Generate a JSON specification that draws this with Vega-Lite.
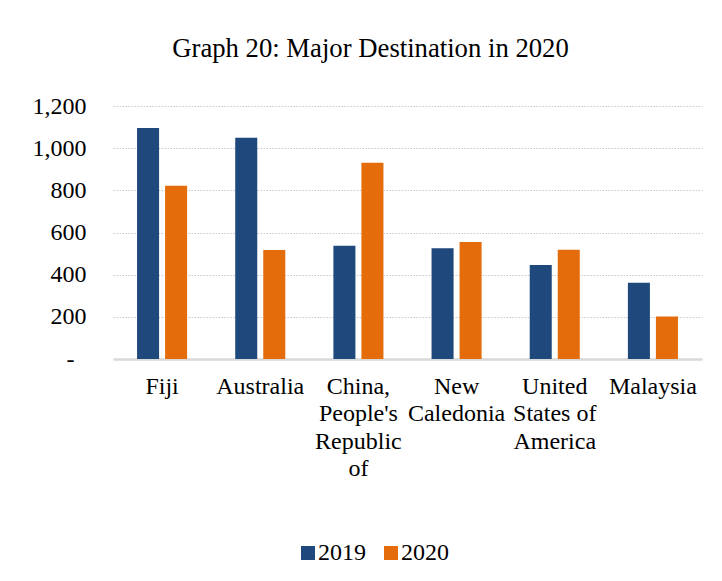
{
  "$schema": "https://vega.github.io/schema/vega-lite/v6.json",
  "autosize": "none",
  "width": 589,
  "height": 253,
  "padding": {"left": 113, "top": 106, "right": 20, "bottom": 222},
  "background": "white",
  "title": {
    "text": "Graph 20: Major Destination in 2020",
    "font": "Liberation Serif",
    "fontSize": 26.7,
    "fontWeight": "normal",
    "color": "#000000",
    "anchor": "middle",
    "dx": -37,
    "offset": 31
  },
  "data": {
    "values": [
      {"country": "Fiji", "year": "2019", "value": 1096},
      {"country": "Fiji", "year": "2020", "value": 822},
      {"country": "Australia", "year": "2019", "value": 1050},
      {"country": "Australia", "year": "2020", "value": 517},
      {"country": "China, People's Republic of", "year": "2019", "value": 537},
      {"country": "China, People's Republic of", "year": "2020", "value": 931},
      {"country": "New Caledonia", "year": "2019", "value": 525},
      {"country": "New Caledonia", "year": "2020", "value": 555},
      {"country": "United States of America", "year": "2019", "value": 446},
      {"country": "United States of America", "year": "2020", "value": 518},
      {"country": "Malaysia", "year": "2019", "value": 362},
      {"country": "Malaysia", "year": "2020", "value": 201}
    ]
  },
  "mark": {"type": "bar"},
  "encoding": {
    "x": {
      "field": "country",
      "type": "nominal",
      "sort": null,
      "scale": {"paddingInner": 0.49, "paddingOuter": 0.245},
      "axis": {
        "title": null,
        "labelAngle": 0,
        "labelFont": "Liberation Serif",
        "labelFontSize": 24,
        "labelColor": "#000000",
        "labelLineHeight": 27.5,
        "labelBaseline": "top",
        "labelPadding": 15,
        "labelLimit": 200,
        "labelOverlap": false,
        "ticks": false,
        "grid": false,
        "domainColor": "#d9d9d9",
        "domainWidth": 2.5,
        "labelExpr": "datum.value == \"China, People's Republic of\" ? ['China,', \"People's\", 'Republic', 'of'] : datum.value == 'New Caledonia' ? ['New', 'Caledonia'] : datum.value == 'United States of America' ? ['United', 'States of', 'America'] : datum.value"
      }
    },
    "xOffset": {
      "field": "year",
      "type": "nominal",
      "scale": {"paddingInner": 0.214, "paddingOuter": 0}
    },
    "y": {
      "field": "value",
      "type": "quantitative",
      "scale": {"domain": [0, 1200]},
      "axis": {
        "title": null,
        "values": [0, 200, 400, 600, 800, 1000, 1200],
        "labelFont": "Liberation Serif",
        "labelFontSize": 24,
        "labelColor": "#000000",
        "labelPadding": {"condition": {"test": "datum.value == 0", "value": 39}, "value": 27},
        "labelOverlap": false,
        "labelFlush": false,
        "ticks": false,
        "domain": false,
        "gridColor": "#c8c8c8",
        "gridDash": [1.5, 1.5],
        "gridWidth": 1.2,
        "labelExpr": "datum.value == 0 ? '-' : format(datum.value, ',')"
      }
    },
    "color": {
      "field": "year",
      "type": "nominal",
      "scale": {"domain": ["2019", "2020"], "range": ["#1f497d", "#e46c0a"]},
      "legend": {
        "title": null,
        "orient": "none",
        "direction": "horizontal",
        "legendX": 183,
        "legendY": 435,
        "symbolType": "square",
        "symbolSize": 196,
        "symbolStrokeWidth": 0,
        "symbolOpacity": 1,
        "labelFont": "Liberation Serif",
        "labelFontSize": 24,
        "labelColor": "#000000",
        "labelOffset": -2,
        "columnPadding": 13
      }
    }
  },
  "config": {
    "font": "Liberation Serif",
    "view": {"stroke": null}
  }
}
